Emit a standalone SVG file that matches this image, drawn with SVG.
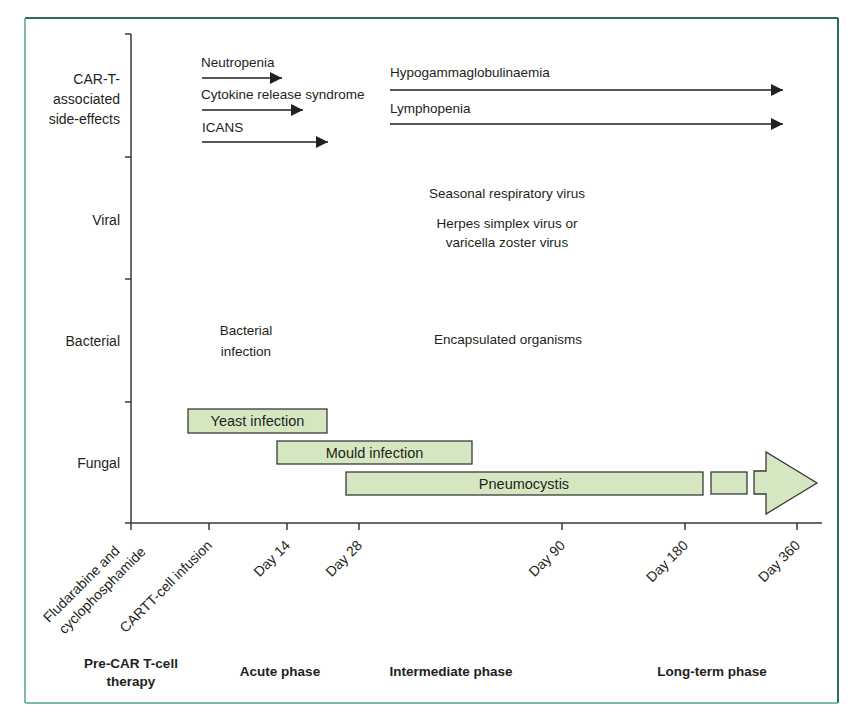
<svg xmlns="http://www.w3.org/2000/svg" width="853" height="716" viewBox="0 0 853 716">
<style>
text{font-family:"Liberation Sans",Arial,sans-serif;fill:#231f20}
.t{font-size:13.5px}
.row{font-size:14px;text-anchor:end}
.tick{font-size:14px}
.ph{font-size:13.5px;font-weight:bold;text-anchor:middle}
.c{text-anchor:middle}
.ax{stroke:#3a3a3a;stroke-width:1.5;fill:none}
.arr{stroke:#231f20;stroke-width:1.5;fill:none;marker-end:url(#ah)}
.bar{fill:#d5e7c0;stroke:#3a3a3a;stroke-width:1.3}
.bt{font-size:14.5px;text-anchor:middle}
</style>
<defs>
<marker id="ah" markerUnits="userSpaceOnUse" markerWidth="13" markerHeight="13" refX="12" refY="6" orient="auto">
<path d="M0,0 L12,6 L0,12 z" fill="#231f20"/>
</marker>
</defs>
<rect x="0" y="0" width="853" height="716" fill="#ffffff"/>
<g id="frame" fill="none" stroke-width="2">
<line x1="25" y1="18" x2="838" y2="18" stroke="#2c6e5e"/>
<line x1="838" y1="18" x2="838" y2="703" stroke="#2c6e5e"/>
<line x1="25" y1="18" x2="25" y2="703" stroke="#7dbaa9"/>
<line x1="25" y1="703" x2="838" y2="703" stroke="#7dbaa9"/>
</g>
<g id="axes" class="ax">
<path d="M131,34 V530 M125,34 H131 M125,157 H131 M125,279 H131 M125,402 H131"/>
<path d="M125,523 H822 M209,523 V530 M287,523 V530 M359,523 V530 M562,523 V530 M685,523 V530 M797,523 V530"/>
</g>
<g id="row-labels">
<text class="row" x="120" y="84">CAR-T-</text>
<text class="row" x="120" y="104">associated</text>
<text class="row" x="120" y="124">side-effects</text>
<text class="row" x="120" y="225">Viral</text>
<text class="row" x="120" y="346">Bacterial</text>
<text class="row" x="120" y="468">Fungal</text>
</g>
<g id="tick-labels" class="tick">
<g transform="translate(131,530) rotate(-45)">
<text x="-124" y="8">Fludarabine and</text>
<text x="-121" y="27">cyclophosphamide</text>
</g>
<text text-anchor="end" transform="translate(209,530) rotate(-45) translate(-8.7,14.2)">CARTT-cell infusion</text>
<text text-anchor="end" transform="translate(287,530) rotate(-45) translate(-8.7,14.2)">Day 14</text>
<text text-anchor="end" transform="translate(359,530) rotate(-45) translate(-8.7,14.2)">Day 28</text>
<text text-anchor="end" transform="translate(562,530) rotate(-45) translate(-8.7,14.2)">Day 90</text>
<text text-anchor="end" transform="translate(685,530) rotate(-45) translate(-8.7,14.2)">Day 180</text>
<text text-anchor="end" transform="translate(797,530) rotate(-45) translate(-8.7,14.2)">Day 360</text>
</g>
<g id="connectors">
<line class="arr" x1="202" y1="78" x2="282" y2="78"/>
<line class="arr" x1="202" y1="110" x2="303" y2="110"/>
<line class="arr" x1="202" y1="142" x2="328" y2="142"/>
<line class="arr" x1="390" y1="90" x2="783" y2="90"/>
<line class="arr" x1="390" y1="124" x2="783" y2="124"/>
</g>
<g id="side-effects" class="t">
<text x="201" y="67">Neutropenia</text>
<text x="201" y="99">Cytokine release syndrome</text>
<text x="202" y="132">ICANS</text>
<text x="390" y="77">Hypogammaglobulinaemia</text>
<text x="390" y="113">Lymphopenia</text>
</g>
<g id="viral" class="t c">
<text x="507" y="198">Seasonal respiratory virus</text>
<text x="507" y="228">Herpes simplex virus or</text>
<text x="507" y="247">varicella zoster virus</text>
</g>
<g id="bacterial" class="t c">
<text x="246" y="335">Bacterial</text>
<text x="246" y="356">infection</text>
<text x="508" y="344">Encapsulated organisms</text>
</g>
<g id="yeast">
<rect class="bar" x="188" y="409" width="139" height="24"/>
<text class="bt" x="257.5" y="426">Yeast infection</text>
</g>
<g id="mould">
<rect class="bar" x="277" y="441" width="195" height="23"/>
<text class="bt" x="374.5" y="457.5">Mould infection</text>
</g>
<g id="pneumocystis">
<rect class="bar" x="346" y="472" width="357" height="23"/>
<text class="bt" x="524" y="488.5">Pneumocystis</text>
<rect class="bar" x="711" y="472" width="36" height="22"/>
<polygon class="bar" points="754,471 766,471 766,452 817,483 766,514 766,494 754,494"/>
</g>
<g id="phases">
<text class="ph" x="131" y="668">Pre-CAR T-cell</text>
<text class="ph" x="131" y="686">therapy</text>
<text class="ph" x="280" y="676">Acute phase</text>
<text class="ph" x="451" y="676">Intermediate phase</text>
<text class="ph" x="712" y="676">Long-term phase</text>
</g>
</svg>
